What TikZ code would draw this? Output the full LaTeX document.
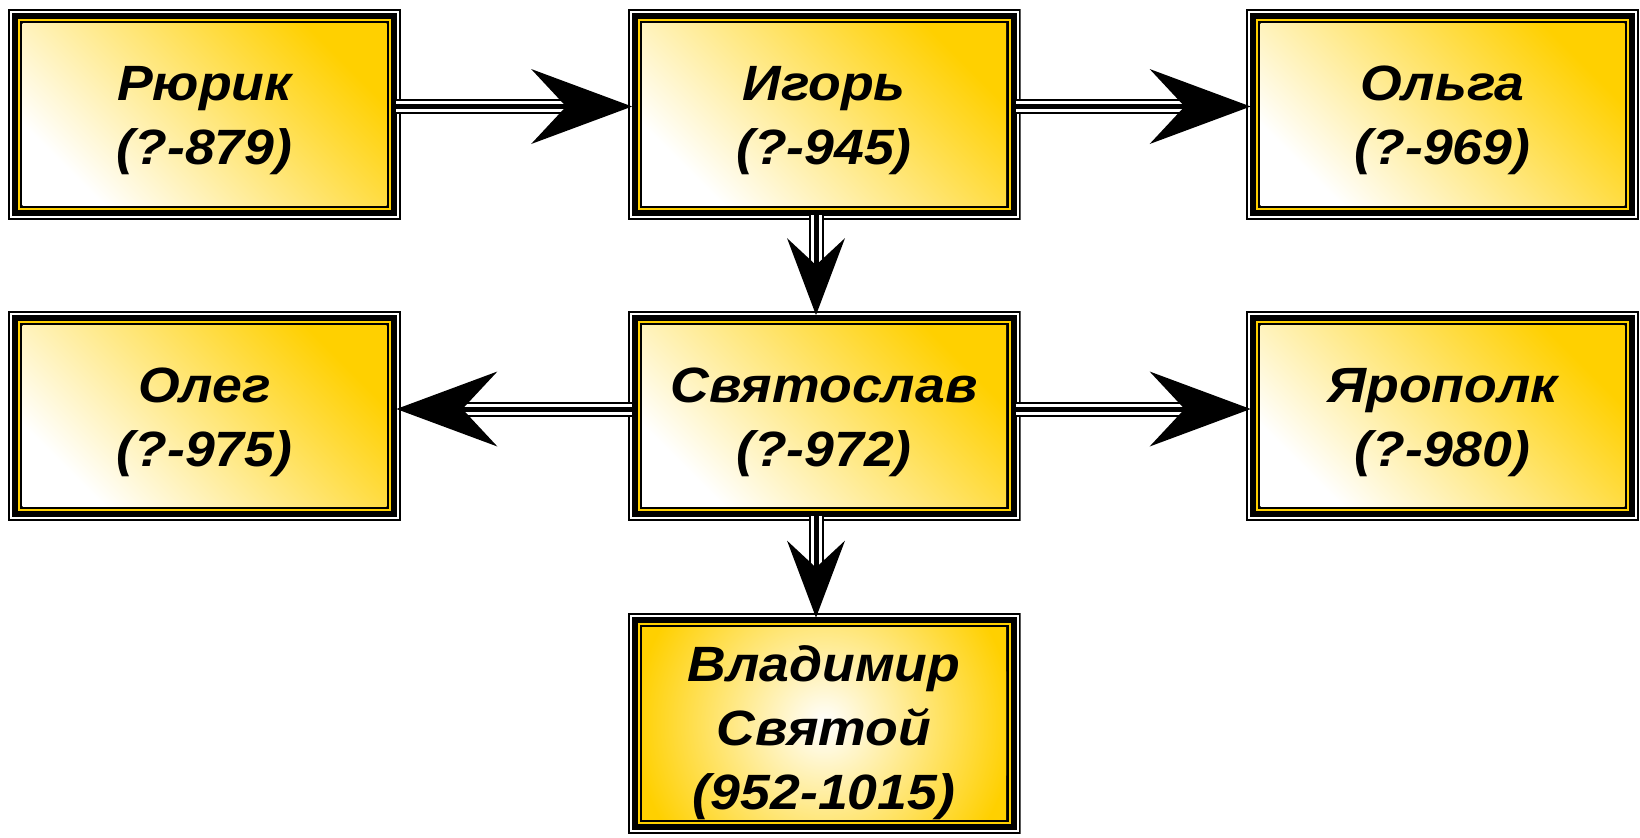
\documentclass[tikz,border=0pt]{standalone}
\usepackage{fontspec}
\setmainfont[FakeStretch=1.08]{Liberation Sans}
\usetikzlibrary{arrows.meta,calc}
\definecolor{gold}{RGB}{255,208,0}
\newcommand\tstrut[1]{\rule{0pt}{#1}}
\tikzset{
  box/.style={rectangle, inner sep=0pt, minimum width=196.5pt, align=center,
    font=\bfseries\itshape\fontsize{24.8pt}{32pt}\selectfont},
  linbox/.style={box, path picture={
    \coordinate (sw) at (path picture bounding box.south west);
    \coordinate (ne) at (path picture bounding box.north east);
    \fill[black] (sw) rectangle (ne);
    \fill[white] ([shift={(1pt,1pt)}]sw) rectangle ([shift={(-1pt,-1pt)}]ne);
    \fill[black] ([shift={(2pt,2pt)}]sw) rectangle ([shift={(-2pt,-2pt)}]ne);
    \fill[gold] ([shift={(5pt,5pt)}]sw) rectangle ([shift={(-5pt,-5pt)}]ne);
    \fill[black] ([shift={(6pt,6pt)}]sw) rectangle ([shift={(-6pt,-6pt)}]ne);
    \shade[top color=gold, bottom color=white, shading angle=-45]
      ([shift={(7.25pt,7.25pt)}]sw) rectangle ([shift={(-7.25pt,-7.25pt)}]ne);
  }},
  radbox/.style={box, path picture={
    \coordinate (sw) at (path picture bounding box.south west);
    \coordinate (ne) at (path picture bounding box.north east);
    \coordinate (cc) at (path picture bounding box.center);
    \fill[black] (sw) rectangle (ne);
    \fill[white] ([shift={(1pt,1pt)}]sw) rectangle ([shift={(-1pt,-1pt)}]ne);
    \fill[black] ([shift={(2pt,2pt)}]sw) rectangle ([shift={(-2pt,-2pt)}]ne);
    \fill[gold] ([shift={(5pt,5pt)}]sw) rectangle ([shift={(-5pt,-5pt)}]ne);
    \fill[black] ([shift={(6pt,6pt)}]sw) rectangle ([shift={(-6pt,-6pt)}]ne);
    \begin{scope}
      \clip ([shift={(7.25pt,7.25pt)}]sw) rectangle ([shift={(-7.25pt,-7.25pt)}]ne);
      \fill[gold] (sw) rectangle (ne);
      \shade[inner color=white, outer color=gold] (cc) circle (95pt);
    \end{scope}
  }},
  shaft/.style={
    preaction={draw=black, line width=7.5pt, -, shorten >=#1},
    preaction={draw=white, line width=5.5pt, -, shorten >=#1}},
  hconn/.style={draw=black, line width=2.5pt, shaft=25pt,
    -{Stealth[length=50.5pt, width=37.5pt, inset=17.5pt, line width=0pt]}},
  vconn/.style={draw=black, line width=2.5pt, shaft=20pt,
    -{Stealth[length=38.5pt, width=29pt, inset=13.5pt, line width=0pt]}},
}
\begin{document}
\begin{tikzpicture}[x=0.5pt, y=-0.5pt]
\useasboundingbox (0,0) rectangle (1640,837);
\node[linbox, minimum height=105.5pt] (rurik) at (204.5,114.5) {\tstrut{23.5pt}Рюрик\\(?-879)};
\node[linbox, minimum height=105.5pt] (igor) at (824,114.5) {\tstrut{23.5pt}Игорь\\(?-945)};
\node[linbox, minimum height=105.5pt] (olga) at (1442.5,114.5) {\tstrut{23.5pt}Ольга\\(?-969)};
\node[linbox, minimum height=105pt] (oleg) at (204.5,415.5) {\tstrut{24.5pt}Олег\\(?-975)};
\node[linbox, minimum height=105pt] (svyat) at (824,415.5) {\tstrut{24.5pt}Святослав\\(?-972)};
\node[linbox, minimum height=105pt] (yaro) at (1442.5,415.5) {\tstrut{24.5pt}Ярополк\\(?-980)};
\node[radbox, minimum height=110.5pt] (vlad) at (824,723.5) {\tstrut{27.5pt}Владимир\\Святой\\(952-1015)};
\draw[hconn] ([xshift=-2.5pt,yshift=4pt]rurik.east) -- ([xshift=2.5pt,yshift=4pt]igor.west);
\draw[hconn] ([xshift=-2.5pt,yshift=4pt]igor.east) -- ([xshift=2.5pt,yshift=4pt]olga.west);
\draw[vconn] ([xshift=-4pt,yshift=2.5pt]igor.south) -- ([xshift=-4pt,yshift=-2.5pt]svyat.north);
\draw[hconn] ([xshift=2.5pt,yshift=3.25pt]svyat.west) -- ([xshift=-2.5pt,yshift=3.25pt]oleg.east);
\draw[hconn] ([xshift=-2.5pt,yshift=3.25pt]svyat.east) -- ([xshift=2.5pt,yshift=3.25pt]yaro.west);
\draw[vconn] ([xshift=-4pt,yshift=2.5pt]svyat.south) -- ([xshift=-4pt,yshift=-2.5pt]vlad.north);
\end{tikzpicture}
\end{document}
